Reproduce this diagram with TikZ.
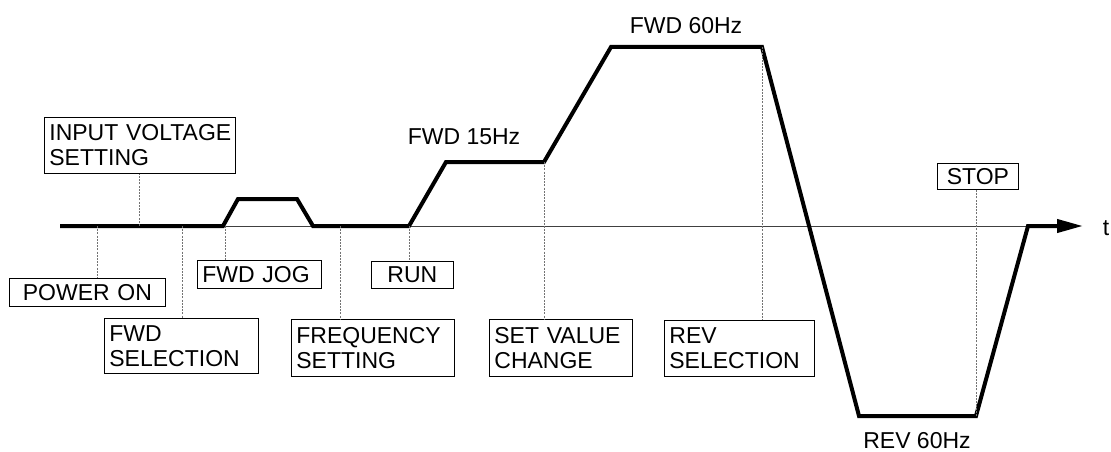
\documentclass[tikz,border=0pt]{standalone}
\usepackage{fontspec}
\setmainfont{Liberation Sans}
\usetikzlibrary{arrows.meta}
\begin{document}
\begin{tikzpicture}[x=1pt,y=-1pt,
  bx/.style={draw, line width=0.8pt, inner xsep=5pt, inner ysep=0pt, anchor=north west, align=left, font=\fontsize{23}{25}\selectfont},
  bxc/.style={bx, align=center},
  lbl/.style={font=\fontsize{23}{25}\selectfont, inner sep=0pt},
  dl/.style={draw=black!55, line width=1pt, dash pattern=on 2pt off 1.2pt},
  thick line/.style={line width=4pt, line join=miter, line cap=butt},
  axis/.style={draw=black!75, line width=1pt}]
\useasboundingbox (0,0) rectangle (1111,452);
% axis
\coordinate (ax0) at (60,226);
\coordinate (ax1) at (1060,226);
\draw[axis] (ax0) -- (ax1);
% profile
\coordinate (p0) at (60,226);
\coordinate (p1) at (223,226);
\coordinate (p2) at (238,199);
\coordinate (p3) at (297,199);
\coordinate (p4) at (313,226);
\coordinate (p5) at (409,226);
\coordinate (p6) at (446,162);
\coordinate (p7) at (544,162);
\coordinate (p8) at (611,47);
\coordinate (p9) at (762,47);
\coordinate (p10) at (859,416);
\coordinate (p11) at (976,416);
\coordinate (p12) at (1028,226);
\coordinate (p13) at (1083,226);
\draw[thick line, -{Triangle[length=26pt,width=13pt]}] (p0) -- (p1) -- (p2) -- (p3) -- (p4) -- (p5) -- (p6) -- (p7) -- (p8) -- (p9) -- (p10) -- (p11) -- (p12) -- (p13);
\node[lbl] (t) at (1106,228) {t};
% labels
\node[lbl] (f15) at (464,137) {FWD 15Hz};
\node[lbl] (f60) at (686,26) {FWD 60Hz};
\node[lbl] (r60) at (917,441) {REV 60Hz};
% boxes
\node[bx, text width=181pt, minimum height=56pt] (ivs) at (44,117) {\mbox{INPUT VOLTAGE}\\SETTING};
\node[bxc, text width=146pt, minimum height=28pt] (pon) at (9,278) {POWER ON};
\node[bx, text width=114pt, minimum height=28pt] (jog) at (197,260) {FWD JOG};
\node[bxc, text width=72pt, minimum height=27pt] (run) at (371,261) {RUN};
\node[bx, text width=144pt, minimum height=55pt] (fsel) at (104,318) {FWD\\SELECTION};
\node[bx, text width=153pt, minimum height=57pt] (frq) at (291,319) {FREQUENCY\\SETTING};
\node[bx, text width=133pt, minimum height=57pt] (svc) at (489,319) {SET VALUE\\CHANGE};
\node[bx, text width=140pt, minimum height=56pt] (rsel) at (664,320) {REV\\SELECTION};
\node[bxc, text width=71pt, minimum height=26pt] (stop) at (937,163) {STOP};
% dotted leaders
\coordinate (d1) at (97,226);
\coordinate (d2) at (139,226);
\coordinate (d3) at (182,226);
\coordinate (d4) at (225,226);
\coordinate (d5) at (340,226);
\draw[dl] (d1) -- (d1 |- pon.north);
\draw[dl] (d2) -- (d2 |- ivs.south);
\draw[dl] (d3) -- (d3 |- fsel.north);
\draw[dl] (d4) -- (d4 |- jog.north);
\draw[dl] (d5) -- (d5 |- frq.north);
\draw[dl] (p5) -- (p5 |- run.north);
\draw[dl] (p7) -- (p7 |- svc.north);
\draw[dl] (p9) -- (p9 |- rsel.north);
\draw[dl] (p11) -- (p11 |- stop.south);
\end{tikzpicture}
\end{document}
